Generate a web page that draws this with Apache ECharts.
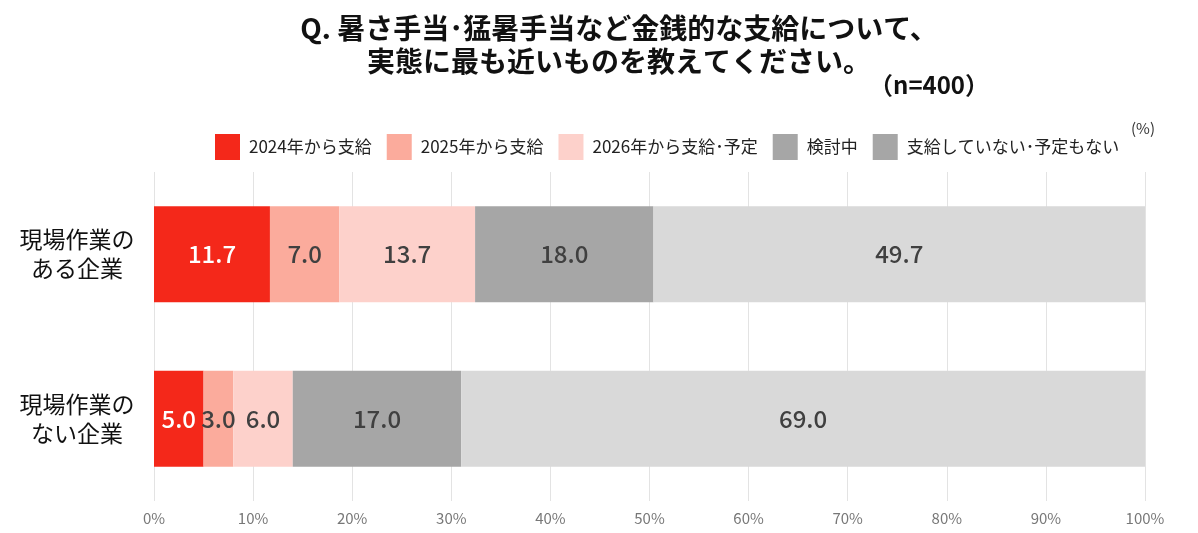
<!DOCTYPE html>
<html><head><meta charset="utf-8">
<script src="https://cdn.jsdelivr.net/npm/echarts@6/dist/echarts.min.js"></script>
<style>html,body{margin:0;padding:0;background:#fff;}#c{width:1198px;height:533px;}</style>
</head><body><div id="c"></div>
<script>
const categories = ['現場作業の\nある企業', '現場作業の\nない企業'];
const seriesNames = ['2024年から支給', '2025年から支給', '2026年から支給･予定', '検討中', '支給していない･予定もない'];
const v2024 = [11.7, 5.0];
const v2025 = [7.0, 3.0];
const v2026 = [13.7, 6.0];
const vKentou = [18.0, 17.0];
const vNone = [49.7, 69.0];
const tickLabels = ['0%','10%','20%','30%','40%','50%','60%','70%','80%','90%','100%'];

const values = [v2024, v2025, v2026, vKentou, vNone];
const colors = ['#f4281a', '#fbab9c', '#fdd1cb', '#a6a6a6', '#d9d9d9'];
const legendColors = ['#f4281a', '#fbab9c', '#fdd1cb', '#a6a6a6', '#a6a6a6'];
const labelColors = ['#ffffff', '#404040', '#404040', '#404040', '#404040'];
const font = '"Noto Sans CJK JP", "Noto Sans", sans-serif';

const chart = echarts.init(document.getElementById('c'));
chart.setOption({
  animation: false,
  textStyle: { fontFamily: font },
  title: [
    { text: 'Q. 暑さ手当･猛暑手当など金銭的な支給について、\n実態に最も近いものを教えてください。', left: 614, textAlign: 'center', top: 7,
      textStyle: { fontSize: 28, fontWeight: 'bold', color: '#111', lineHeight: 33, fontFamily: font } },
    { text: '（n=400）', left: 864, top: 68, textStyle: { fontSize: 24, fontWeight: 'bold', color: '#111', fontFamily: font } },
    { text: '(%)', left: 1126, top: 116, textStyle: { fontSize: 15, fontWeight: 'normal', color: '#333', fontFamily: font } }
  ],
  legend: {
    left: 210, top: 129, icon: 'rect', itemWidth: 25, itemHeight: 26, itemGap: 15,
    textStyle: { fontSize: 17, color: '#222', fontFamily: font, padding: [0, 0, 0, 4] },
    data: seriesNames.map((n, i) => ({ name: n, itemStyle: { color: legendColors[i] } }))
  },
  grid: { left: 154, right: 53, top: 172, bottom: 32, containLabel: false },
  xAxis: {
    type: 'value', min: 0, max: 100, interval: 10,
    axisLabel: { formatter: (v) => tickLabels[Math.round(v / 10)], color: '#777', fontSize: 15, margin: 10 },
    splitLine: { show: true, lineStyle: { color: '#e3e3e3' } },
    axisLine: { show: false }, axisTick: { show: false }
  },
  yAxis: {
    type: 'category', data: categories, inverse: true,
    axisLine: { show: false }, axisTick: { show: false },
    axisLabel: { fontSize: 23, color: '#111', align: 'center', margin: 77, lineHeight: 29 }
  },
  series: seriesNames.map((n, i) => ({
    name: n, type: 'bar', stack: 'total', barWidth: 96,
    data: values[i],
    itemStyle: { color: colors[i] },
    label: { show: true, position: 'inside', formatter: (p) => p.value.toFixed(1), fontSize: 24, fontWeight: 500, color: labelColors[i], fontFamily: font }
  }))
});
</script></body></html>
